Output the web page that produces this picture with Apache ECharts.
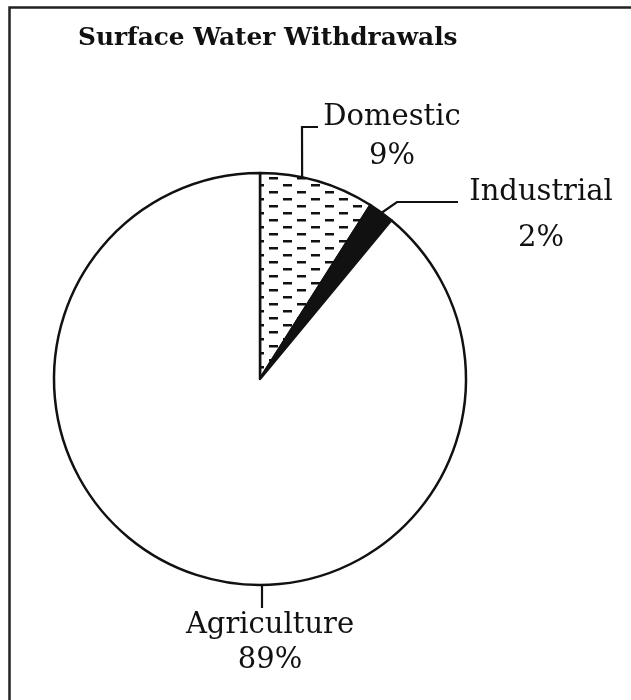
<!DOCTYPE html>
<html>
<head>
<meta charset="utf-8">
<script src="https://cdn.jsdelivr.net/npm/echarts@6/dist/echarts.min.js"></script>
<style>
html,body{margin:0;padding:0;background:#fff;}
#chart{width:631px;height:700px;}
</style>
</head>
<body>
<div id="chart"></div>
<script>
// ---- data ----
const categories = ['Domestic', 'Industrial', 'Agriculture'];
const values = [9, 2, 89];
const titleText = 'Surface Water Withdrawals';

// ---- layout / style (not data) ----
const CX = 260, CY = 379, R = 206;
const FONT = '"DejaVu Serif", "Liberation Serif", serif';

function arcPoint(deg) {
  const a = deg * Math.PI / 180;
  return [CX + R * Math.sin(a), CY - R * Math.cos(a)];
}

const labelLayouts = [
  { x: 392, y: 137, lh: 39, line: () => [arcPoint(11.8), [302, 127], [318, 127]] },
  { x: 541, y: 215, lh: 46, line: () => [arcPoint(36.2), [397, 202], [458, 202]] },
  { x: 270, y: 643, lh: 35, line: () => [[262, 568], [262, 608]] }
];

function makePattern() {
  const c = document.createElement('canvas');
  c.width = 28; c.height = 14;
  const g = c.getContext('2d');
  g.fillStyle = '#fff';
  g.fillRect(0, 0, 28, 14);
  g.fillStyle = '#111';
  g.fillRect(3, 2, 9, 2.5);
  g.fillRect(17, 9, 9, 2.5);
  return c;
}

const fills = [
  { image: makePattern(), repeat: 'repeat' },
  '#111',
  '#fff'
];

const chart = echarts.init(document.getElementById('chart'), null, { renderer: 'canvas' });

chart.setOption({
  animation: false,
  backgroundColor: '#fff',
  title: {
    text: titleText,
    left: 73,
    top: 21,
    textStyle: { fontFamily: FONT, fontWeight: 'bold', fontSize: 24.8, color: '#111' }
  },
  graphic: [{
    type: 'polyline',
    shape: { points: [[9.5, 700], [9.5, 7.5], [631, 7.5]] },
    style: { stroke: '#222', lineWidth: 2.5, fill: null }
  }],
  series: [{
    type: 'pie',
    center: [CX, CY],
    radius: R,
    startAngle: 90,
    clockwise: true,
    avoidLabelOverlap: false,
    silent: true,
    itemStyle: { borderColor: '#111', borderWidth: 2.5 },
    label: {
      show: true,
      position: 'outside',
      fontFamily: FONT,
      fontSize: 29,
      color: '#111',
      align: 'center',
      formatter: p => p.name + '\n' + p.value + '%'
    },
    labelLine: { show: true, lineStyle: { color: '#111', width: 2.2 } },
    labelLayout: function (params) {
      const L = labelLayouts[params.dataIndex];
      return {
        x: L.x, y: L.y,
        align: 'center', verticalAlign: 'middle',
        labelLinePoints: L.line()
      };
    },
    data: categories.map((name, i) => ({
      name: name,
      value: values[i],
      itemStyle: { color: fills[i] },
      label: { lineHeight: labelLayouts[i].lh }
    }))
  }]
});
</script>
</body>
</html>
